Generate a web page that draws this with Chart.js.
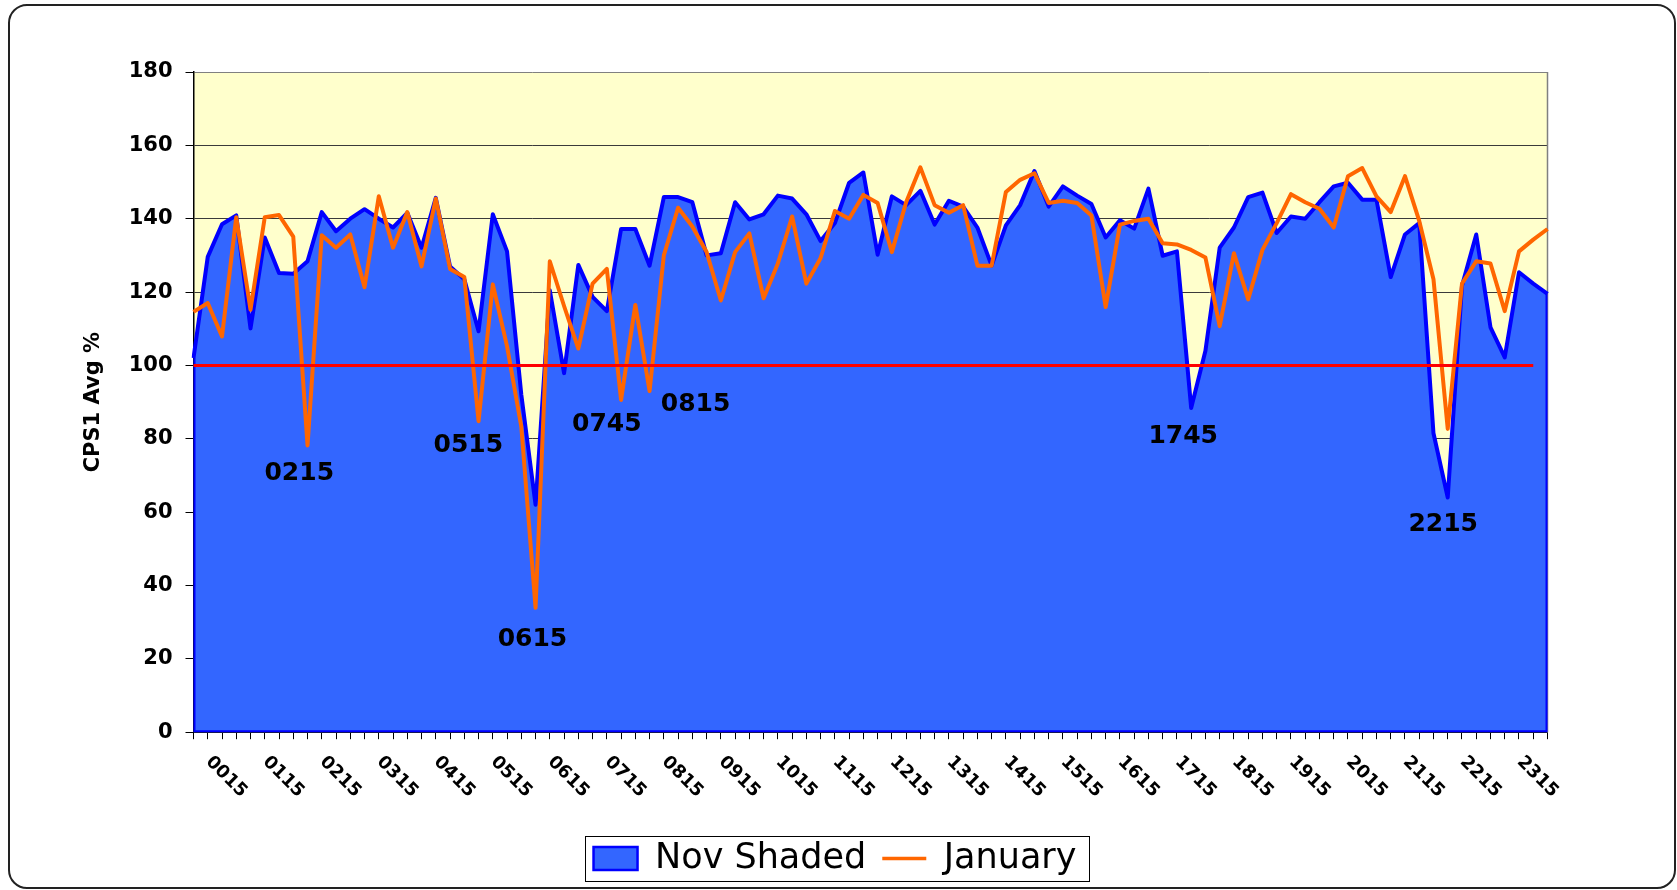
<!DOCTYPE html>
<html>
<head>
<meta charset="utf-8">
<title>CPS1 Avg %</title>
<script src="https://cdn.jsdelivr.net/npm/chart.js@4.4.0/dist/chart.umd.min.js"></script>
<style>
  html, body { margin: 0; padding: 0; background: #fff; }
  #wrap { width: 1677px; height: 890px; }
</style>
</head>
<body>
<div id="wrap"><canvas id="chart" width="1677" height="890"></canvas></div>
<script>
// 15 minute periods, period ending 0015 .. 2400
const categories = [
  '0015','0030','0045','0100','0115','0130','0145','0200',
  '0215','0230','0245','0300','0315','0330','0345','0400',
  '0415','0430','0445','0500','0515','0530','0545','0600',
  '0615','0630','0645','0700','0715','0730','0745','0800',
  '0815','0830','0845','0900','0915','0930','0945','1000',
  '1015','1030','1045','1100','1115','1130','1145','1200',
  '1215','1230','1245','1300','1315','1330','1345','1400',
  '1415','1430','1445','1500','1515','1530','1545','1600',
  '1615','1630','1645','1700','1715','1730','1745','1800',
  '1815','1830','1845','1900','1915','1930','1945','2000',
  '2015','2030','2045','2100','2115','2130','2145','2200',
  '2215','2230','2245','2300','2315','2330','2345','2400'
];

const novShaded = [
  102, 129.6, 138.5, 140.9, 110.1, 134.9, 125.2, 125,
  128.4, 141.8, 136.6, 140, 142.6, 140, 137.6, 141.6,
  132.1, 145.7, 127, 123.5, 109.3, 141.2, 131.1, 92,
  62, 120.5, 97.9, 127.4, 118.7, 114.8, 137.2, 137.2,
  127.2, 145.9, 145.9, 144.5, 130, 130.6, 144.5, 139.8,
  141.2, 146.3, 145.5, 141.2, 133.9, 138.8, 149.8, 152.6,
  130.2, 146.1, 143.7, 147.6, 138.4, 144.9, 143.3, 137.6,
  127.2, 138.2, 143.7, 153, 143.3, 148.8, 146.3, 144,
  134.9, 139.6, 137.3, 148.2, 129.9, 131.1, 88.4, 104,
  132.1, 137.6, 145.9, 147.1, 136.1, 140.6, 140, 144.5,
  148.8, 149.8, 145.2, 145.2, 124.1, 135.7, 138.8, 81.5,
  64, 121.7, 135.7, 110.4, 102.2, 125.4, 122.3, 119.5
];

const january = [
  114.6, 117, 107.9, 140.4, 115.2, 140.4, 141, 135.1,
  78.2, 135.5, 132.1, 135.7, 121.3, 146.1, 132.1, 141.8,
  127, 145.5, 126.3, 124.1, 84.8, 122.1, 105.2, 83.3,
  33.9, 128.4, 116.2, 104.6, 122.3, 126.3, 90.6, 116.5,
  93, 130, 143, 137.9, 130.9, 117.7, 130.9, 136,
  118.3, 127.8, 140.6, 122.3, 129.3, 142.1, 140, 146.5,
  144.3, 130.9, 144.5, 154, 143.7, 141.6, 143.7, 127.2,
  127.2, 147.3, 150.6, 152.4, 144.3, 144.9, 144.3, 140.9,
  115.9, 138.4, 139.4, 140, 133.3, 133, 131.5, 129.4,
  110.7, 130.6, 118, 131.5, 138.8, 146.7, 144.5, 142.7,
  137.6, 151.6, 153.8, 146.1, 141.8, 151.6, 139.4, 123.5,
  82.7, 122.3, 128.4, 127.8, 114.8, 131.1, 134.3, 137.2
];

// 100% reference line, stops one period short of the end
const targetValue = 100;
const targetLastIndex = 94;
const targetLine = categories.map((c, i) => i <= targetLastIndex ? targetValue : null);

const yTicks = [0, 20, 40, 60, 80, 100, 120, 140, 160, 180];
const labelStep = 4;   // show every 4th period (0015, 0115, ...)

// text call-outs for the dips (category index, value)
const dipLabels = ['0215', '0515', '0615', '0745', '0815', '1745', '2215'];
const dipIndex  = [7.42, 19.28, 23.78, 29.0, 35.23, 69.44, 87.68];
const dipValue  = [70.6, 78.1, 25.2, 83.8, 89.3, 80.5, 56.6];

const FONT = 'DejaVu Sans';

//** Frame, plot background and plot border */
const framePlugin = {
    id: 'frame',
    beforeDraw(chart) {
        const ctx = chart.ctx, a = chart.chartArea;
        ctx.save();
        ctx.fillStyle = '#ffffff';
        ctx.fillRect(0, 0, chart.width, chart.height);
        ctx.beginPath();
        ctx.roundRect(9, 5, 1666, 883, 18);
        ctx.lineWidth = 2;
        ctx.strokeStyle = '#222';
        ctx.stroke();
        ctx.fillStyle = '#FFFFCC';
        ctx.fillRect(a.left, a.top, a.right - a.left, a.bottom - a.top);
        ctx.restore();
    },
    beforeDatasetsDraw(chart) {
        const ctx = chart.ctx, a = chart.chartArea;
        ctx.save();
        ctx.strokeStyle = '#808080';
        ctx.lineWidth = 1.5;
        ctx.beginPath();
        ctx.moveTo(a.right, a.top);
        ctx.lineTo(a.right, a.bottom);
        ctx.stroke();
        ctx.restore();
    }
};

//** Excel style area outline: left side, bottom and right side */
const areaEdgePlugin = {
    id: 'areaEdge',
    afterDatasetDraw(chart, args) {
        if (args.index !== 0) return;
        const ctx = chart.ctx, a = chart.chartArea;
        const xs = chart.scales.x, ys = chart.scales.y;
        const last = novShaded.length - 1;
        ctx.save();
        ctx.beginPath();
        ctx.rect(a.left, a.top, a.right - a.left, a.bottom - a.top);
        ctx.clip();
        ctx.strokeStyle = '#0000FF';
        ctx.lineWidth = 4;
        ctx.lineJoin = 'round';
        ctx.beginPath();
        ctx.moveTo(xs.getPixelForValue(0), ys.getPixelForValue(novShaded[0]));
        ctx.lineTo(xs.getPixelForValue(0), ys.getPixelForValue(0));
        ctx.lineTo(xs.getPixelForValue(last), ys.getPixelForValue(0));
        ctx.lineTo(xs.getPixelForValue(last), ys.getPixelForValue(novShaded[last]));
        ctx.stroke();
        ctx.restore();
    }
};

//** Rotated category labels and dip call-outs */
const textPlugin = {
    id: 'texts',
    afterDraw(chart) {
        const ctx = chart.ctx;
        const xs = chart.scales.x, ys = chart.scales.y;
        ctx.save();
        ctx.fillStyle = '#000';
        ctx.font = 'bold 18px "' + FONT + '"';
        ctx.textAlign = 'left';
        ctx.textBaseline = 'middle';
        categories.forEach((c, i) => {
            if (i % labelStep !== 0) return;
            const px = xs.getPixelForValue(i);
            ctx.save();
            ctx.translate(px + 15, xs.top + 27);
            ctx.rotate(Math.PI / 4);
            ctx.fillText(c, 0, 0);
            ctx.restore();
        });

        ctx.font = 'bold 25px "' + FONT + '"';
        ctx.textAlign = 'center';
        dipLabels.forEach((t, i) => {
            ctx.fillText(t, xs.getPixelForValue(dipIndex[i]), ys.getPixelForValue(dipValue[i]));
        });

        // legend frame
        const hb = chart.legend && chart.legend.legendHitBoxes;
        if (hb && hb.length) {
            const first = hb[0], lastBox = hb[hb.length - 1];
            const cy = first.top + first.height / 2;
            const x0 = first.left - 9;
            const x1 = lastBox.left + lastBox.width + 12;
            ctx.strokeStyle = '#000';
            ctx.lineWidth = 1;
            ctx.strokeRect(Math.round(x0) + 0.5, Math.round(cy - 22.5) + 0.5, Math.round(x1 - x0), 45);
        }
        ctx.restore();
    }
};

var options = {
    responsive: false,
    animation: false,
    layout: {
        padding: { left: 0, top: 72, right: 7, bottom: 4 }
    },
    plugins: {
        tooltip: { enabled: false },
        legend: {
            position: 'bottom',
            labels: {
                usePointStyle: true,
                pointStyleWidth: 44,
                boxHeight: 23,
                padding: 16,
                color: '#000',
                font: { family: FONT, size: 35 },
                generateLabels: function(chart) {
                    return chart.data.datasets.slice(0, 2).map(function(ds, i) {
                        return {
                            text: ds.label,
                            fillStyle: ds.backgroundColor,
                            strokeStyle: ds.borderColor,
                            lineWidth: i === 0 ? 2.5 : 3.5,
                            pointStyle: i === 0 ? 'rect' : 'line',
                            hidden: false,
                            fontColor: '#000',
                            datasetIndex: i
                        };
                    });
                }
            }
        }
    },
    scales: {
        x: {
            ticks: { display: false, autoSkip: false },
            grid: { drawOnChartArea: false, drawTicks: true, tickLength: 7, color: '#000', lineWidth: 1 },
            border: { color: '#000', width: 1.5 },
            afterFit: function(s) { s.height = 92.8; }
        },
        y: {
            min: 0,
            max: 180,
            afterBuildTicks: function(s) { s.ticks = yTicks.map(v => ({ value: v })); },
            ticks: {
                color: '#000',
                padding: 13,
                font: { family: FONT, size: 21, weight: 'bold' }
            },
            grid: {
                color: c => (c.tick && c.tick.value === 180) ? '#808080' : '#3a3a3a',
                tickColor: '#000',
                lineWidth: 1,
                tickLength: 8
            },
            border: { color: '#000', width: 1.5 },
            title: {
                display: true,
                text: 'CPS1 Avg %',
                color: '#000',
                font: { family: FONT, size: 21, weight: 'bold' },
                padding: { top: 81, bottom: 0 }
            },
            afterFit: function(s) { s.width = 193.5; }
        },
        yRight: {
            position: 'right',
            display: true,
            ticks: { display: false },
            grid: { display: false, drawTicks: false },
            border: { display: false },
            afterFit: function(s) { s.width = 122.5; }
        }
    }
};

var chart = new Chart(document.getElementById('chart'), {
    type: 'line',
    data: {
        labels: categories,
        datasets: [{
            label: 'Nov Shaded',
            data: novShaded,
            order: 3,
            fill: 'origin',
            backgroundColor: '#3366FF',
            borderColor: '#0000FF',
            borderWidth: 4,
            borderJoinStyle: 'round',
            pointRadius: 0,
            tension: 0
        }, {
            label: 'January',
            data: january,
            order: 2,
            fill: false,
            backgroundColor: '#FF6600',
            borderColor: '#FF6600',
            borderWidth: 4,
            borderJoinStyle: 'round',
            pointRadius: 0,
            tension: 0
        }, {
            label: 'Target',
            data: targetLine,
            order: 1,
            fill: false,
            borderColor: '#FF0000',
            backgroundColor: '#FF0000',
            borderWidth: 3,
            pointRadius: 0,
            tension: 0
        }]
    },
    options: options,
    plugins: [framePlugin, areaEdgePlugin, textPlugin]
});
</script>
</body>
</html>
